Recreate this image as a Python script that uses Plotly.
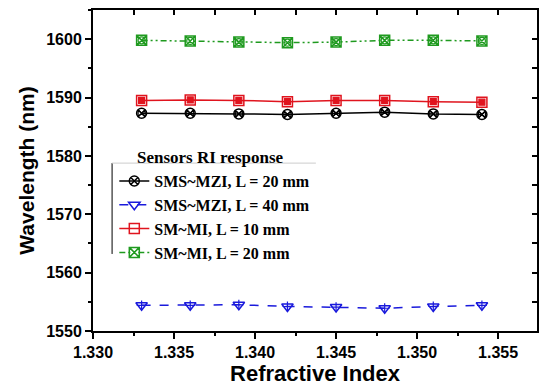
import plotly.graph_objects as go

ri = [1.333, 1.336, 1.339, 1.342, 1.345, 1.348, 1.351, 1.354]
sms_mzi_20 = [1587.3, 1587.3, 1587.2, 1587.1, 1587.3, 1587.5, 1587.2, 1587.1]
sms_mzi_40 = [1554.4, 1554.4, 1554.5, 1554.2, 1554.1, 1553.9, 1554.2, 1554.4]
sm_mi_10 = [1589.5, 1589.6, 1589.5, 1589.3, 1589.5, 1589.5, 1589.3, 1589.2]
sm_mi_20 = [1599.8, 1599.7, 1599.5, 1599.4, 1599.5, 1599.8, 1599.8, 1599.7]
names = ["SMS~MZI, L = 20 mm", "SMS~MZI, L = 40 mm", "SM~MI, L = 10 mm", "SM~MI, L = 20 mm"]
x_ticks = [1.330, 1.335, 1.340, 1.345, 1.350, 1.355]
y_ticks = [1550, 1560, 1570, 1580, 1590, 1600]

series = [
    (sms_mzi_20, "black", "solid", ["circle-x-open", "bowtie-open"]),
    (sms_mzi_40, "#1a1adc", "dash", ["triangle-down-open", "cross-thin-open"]),
    (sm_mi_10, "#e0141e", "solid", ["square-open", "square-dot"]),
    (sm_mi_20, "#1f9a1f", "6px,3px,2px,3px,2px,3px", ["square-x-open", "circle-open"]),
]

fig = go.Figure()
for (vals, col, dash, syms), nm in zip(series, names):
    fig.add_trace(go.Scatter(
        x=ri, y=vals, name=nm, mode="lines+markers",
        line=dict(color=col, width=1.5, dash=dash),
        marker=dict(symbol=syms[0], size=10, color=col, line=dict(width=1.5, color=col)),
    ))
    fig.add_trace(go.Scatter(
        x=ri, y=vals, mode="markers", showlegend=False, hoverinfo="skip",
        marker=dict(symbol=syms[1], size=7 if syms[1] != "square-dot" else 6,
                    color=col, line=dict(width=1.2, color=col)),
    ))

# empty helper trace so the mirrored (top/right) tick axes are drawn
fig.add_trace(go.Scatter(x=[None], y=[None], xaxis="x2", yaxis="y2",
                         showlegend=False, hoverinfo="skip", mode="markers"))

fig.update_layout(
    width=539, height=389,
    margin=dict(l=93, r=2, t=10, b=58),
    paper_bgcolor="white", plot_bgcolor="white",
    font=dict(family="Liberation Sans, Arial", color="black"),
    showlegend=True,
    legend=dict(
        x=0.048, y=0.52, xanchor="left", yanchor="top",
        font=dict(family="Liberation Serif, Times New Roman", size=16, color="black", weight="bold"),
        bgcolor="rgba(255,255,255,0)", borderwidth=0,
        tracegroupgap=0, itemwidth=30,
    ),
    xaxis=dict(
        range=[1.330, 1.3574], tickvals=x_ticks, ticktext=[f"{v:.3f}" for v in x_ticks],
        showgrid=False, zeroline=False, showline=True, linecolor="black", linewidth=2,
        mirror=True, ticks="outside", ticklen=6, tickwidth=2, tickcolor="black",
        minor=dict(dtick=0.0025, ticks="outside", ticklen=3, tickwidth=1.5, tickcolor="black"),
        tickfont=dict(size=16, weight="bold"), automargin=False,
        title=dict(text="Refractive Index", font=dict(size=22, weight="bold"), standoff=4),
    ),
    yaxis=dict(
        range=[1550, 1605], tickvals=y_ticks,
        showgrid=False, zeroline=False, showline=True, linecolor="black", linewidth=2,
        mirror=True, ticks="outside", ticklen=6, tickwidth=2, tickcolor="black",
        minor=dict(dtick=5, ticks="outside", ticklen=3, tickwidth=1.5, tickcolor="black"),
        tickfont=dict(size=16, weight="bold"), automargin=False,
        title=dict(text="Wavelength (nm)", font=dict(size=21, weight="bold"), standoff=6),
    ),
    xaxis2=dict(
        overlaying="x", side="top", showticklabels=False, range=[1.330, 1.3574],
        showgrid=False, zeroline=False, showline=False, ticks="inside", ticklen=5, tickwidth=2,
        tickcolor="black", dtick=0.0025, tick0=1.330, automargin=False,
    ),
    yaxis2=dict(
        overlaying="y", side="right", showticklabels=False, range=[1550, 1605],
        showgrid=False, zeroline=False, showline=False, ticks="inside", ticklen=5, tickwidth=2,
        tickcolor="black", dtick=5, tick0=1550, automargin=False,
    ),
)

fig.add_annotation(
    xref="paper", yref="paper", x=0.094, y=0.539, xanchor="left", yanchor="middle",
    text="Sensors RI response", showarrow=False,
    font=dict(family="Liberation Serif, Times New Roman", size=17, color="black", weight="bold"),
)
fig.add_shape(type="line", xref="paper", yref="paper", x0=0.043, x1=0.043, y0=0.523, y1=0.24,
              line=dict(color="black", width=1))
fig.add_shape(type="line", xref="paper", yref="paper", x0=0.043, x1=0.502, y0=0.523, y1=0.523,
              line=dict(color="#cccccc", width=1))

fig.write_html(
    "out.html",
    config={"displayModeBar": False},
    post_script="document.body.style.margin='0';document.body.style.overflow='hidden';",
)
